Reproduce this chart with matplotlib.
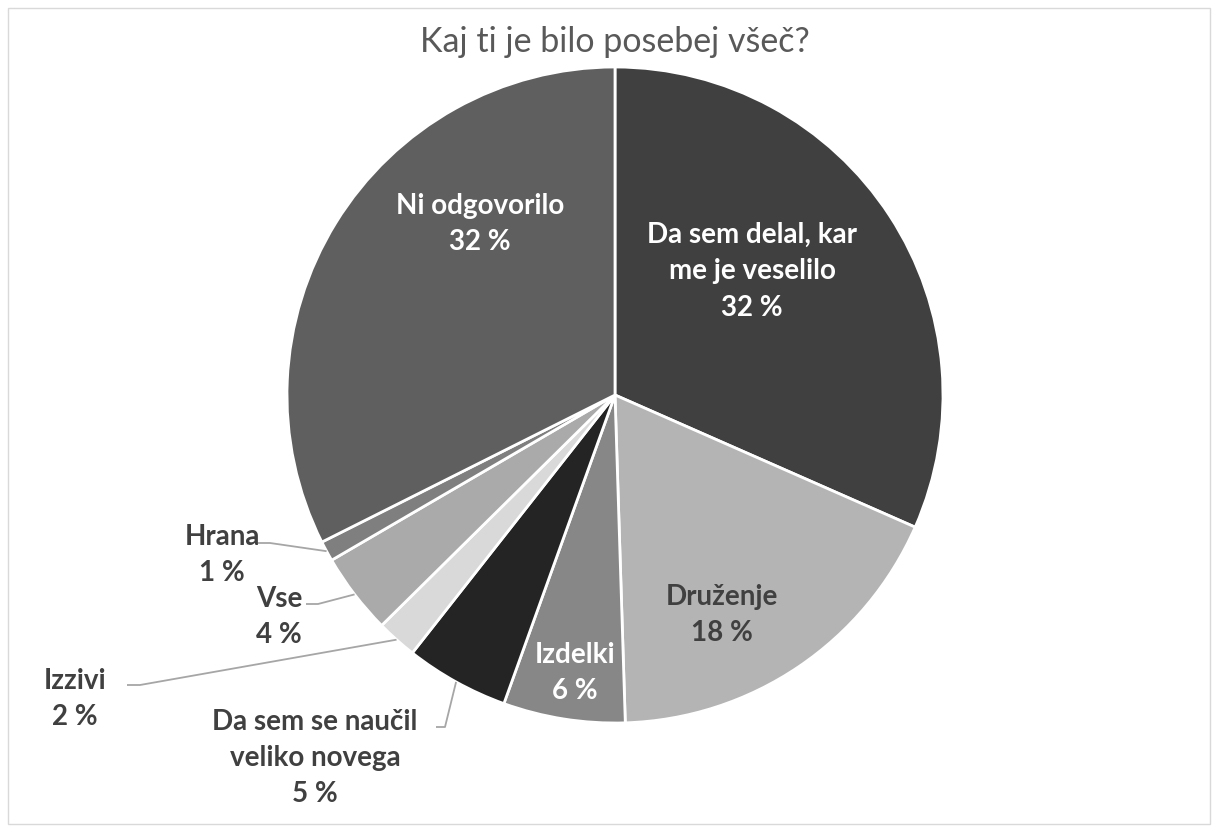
"""Pie chart: Kaj ti je bilo posebej všeč?"""

import matplotlib

matplotlib.use("Agg", force=True)
import matplotlib.pyplot as plt
import numpy as np
from matplotlib.patches import Rectangle

# data (clockwise from 12 o'clock)
categories = [
    "Da sem delal, kar\nme je veselilo",
    "Druženje",
    "Izdelki",
    "Da sem se naučil\nveliko novega",
    "Izzivi",
    "Vse",
    "Hrana",
    "Ni odgovorilo",
]
shares = [31.6, 17.9, 6.0, 5.1, 2.0, 4.0, 1.0, 32.4]
title = "Kaj ti je bilo posebej všeč?"

colors = ["#404040", "#b4b4b4", "#878787", "#242424", "#d9d9d9", "#aaaaaa", "#7f7f7f", "#5f5f5f"]

W, H = 1218, 832
FONT = ["Lato", "DejaVu Sans"]
TEXT_DARK = "#404040"
LABEL_KW = dict(ha="center", va="center", fontsize=20, fontweight="bold",
                family=FONT, linespacing=1.5)

fig = plt.figure(figsize=(W / 100, H / 100), dpi=100)
ax = fig.add_axes([0, 0, 1, 1])

cx, cy, r = 615, H - 395, 328
wedges, _ = ax.pie(
    shares,
    colors=colors,
    startangle=90,
    counterclock=False,
    center=(cx, cy),
    radius=r,
    frame=True,
    wedgeprops=dict(edgecolor="white", linewidth=2.0),
)
ax.set_xlim(0, W)
ax.set_ylim(0, H)
ax.axis("off")

labels = [f"{c}\n{round(v)} %" for c, v in zip(categories, shares)]

# label placement in pixel coords (x, y from top), text colour
inside = {
    0: (752, 271, "white"),
    1: (722, 615, TEXT_DARK),
    2: (575, 673, "white"),
    7: (480, 224, "white"),
}
# outside labels: text centre, elbow point, line end at text
outside = {
    6: ((222, 555), (270, 543), (257, 543)),
    5: ((279, 617), (318, 604), (306, 604)),
    4: ((75, 699), (140, 685), (127, 685)),
    3: ((315, 758), (445, 727), (436, 727)),
}

for i, (x, y, col) in inside.items():
    ax.text(x, H - y, labels[i], color=col, **LABEL_KW)

for i, ((tx, ty), (ex, ey), (lx, ly)) in outside.items():
    w = wedges[i]
    mid = np.deg2rad((w.theta1 + w.theta2) / 2)
    px, py = cx + r * np.cos(mid), cy + r * np.sin(mid)
    ax.plot([px, ex, lx], [py, H - ey, H - ly], color="#a6a6a6", linewidth=1.3,
            solid_capstyle="butt", zorder=1)
    ax.text(tx, H - ty, labels[i], color=TEXT_DARK, **LABEL_KW)

ax.text(615, H - 42, title, ha="center", va="center", color="#595959",
        fontsize=24.5, family=FONT)

fig.patches.append(Rectangle((8, 8), W - 16, H - 16, transform=None,
                             fill=False, edgecolor="#d9d9d9", linewidth=1.0))

fig.savefig("out.png", dpi=100, facecolor="white")
plt.close(fig)
